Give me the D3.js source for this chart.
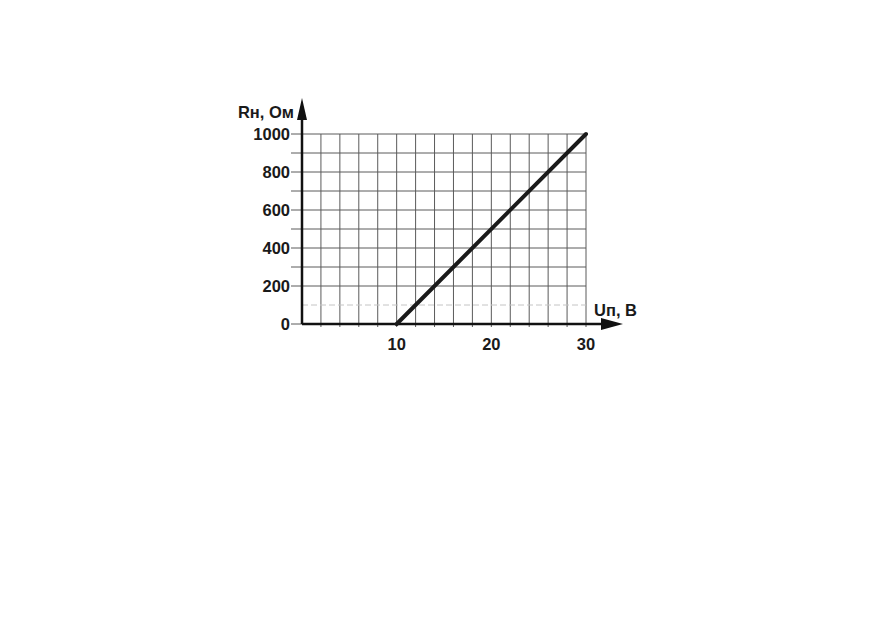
<!DOCTYPE html>
<html><head><meta charset="utf-8">
<script src="https://cdn.jsdelivr.net/npm/d3@7"></script>
<style>body{margin:0;background:#fff}svg{display:block}text{font-family:"Liberation Sans",Arial,sans-serif;font-weight:bold;fill:#1a1a1a}</style>
</head><body><svg id="c" width="872" height="618"></svg>
<script>
const voltage = [10, 30];
const resistance = [0, 1000];
const xTickLabels = [10, 20, 30];
const yTickLabels = [0, 200, 400, 600, 800, 1000];
const xLabel = "Uп, В";
const yLabel = "Rн, Ом";

const svg = d3.select("#c");
const x = d3.scaleLinear().domain([0, 30]).range([302, 586]);
const y = d3.scaleLinear().domain([0, 1000]).range([324, 134]);

svg.append("defs").append("clipPath").attr("id", "clipR")
  .append("rect").attr("x", 0).attr("y", 0).attr("width", 637).attr("height", 618);

const g = svg.append("g");
const xGrid = d3.range(2, 31, 2);
g.selectAll(".vg").data(xGrid).join("line")
  .attr("x1", d => x(d)).attr("x2", d => x(d))
  .attr("y1", y(1000)).attr("y2", y(0) + 3)
  .attr("stroke", "#5a5a5a").attr("stroke-width", 1);
const yGrid = d3.range(100, 1001, 100);
g.selectAll(".hg").data(yGrid).join("line")
  .attr("x1", d => d === 100 ? x(0) : x(0) - 11).attr("x2", x(30))
  .attr("y1", d => y(d)).attr("y2", d => y(d))
  .attr("stroke", d => d === 100 ? "#c4c4c4" : "#5a5a5a")
  .attr("stroke-dasharray", d => d === 100 ? "6,3" : null)
  .attr("stroke-width", 1);
g.append("line").attr("x1", x(0) - 11).attr("x2", x(0)).attr("y1", y(0)).attr("y2", y(0))
  .attr("stroke", "#5a5a5a");

g.append("line").attr("x1", x(0)).attr("x2", 606).attr("y1", y(0)).attr("y2", y(0))
  .attr("stroke", "#111").attr("stroke-width", 2.5);
g.append("line").attr("x1", x(0)).attr("x2", x(0)).attr("y1", y(0)).attr("y2", 116)
  .attr("stroke", "#111").attr("stroke-width", 2.5);
g.append("path").attr("d", `M${x(0)},98 L${x(0)-5},120 L${x(0)+5},120 Z`).attr("fill", "#111");
g.append("path").attr("d", `M623,${y(0)} L601,${y(0)-6} L601,${y(0)+6} Z`).attr("fill", "#111");

g.append("path").datum(voltage.map((v, i) => [v, resistance[i]]))
  .attr("d", d3.line().x(d => x(d[0])).y(d => y(d[1])))
  .attr("stroke", "#1a1a1a").attr("stroke-width", 4).attr("fill", "none").attr("stroke-linecap", "round");

g.selectAll(".yl").data(yTickLabels).join("text")
  .attr("x", 290).attr("y", d => y(d)).attr("dy", "0.36em")
  .attr("text-anchor", "end").attr("font-size", 16.5).text(d => d);
g.selectAll(".xl").data(xTickLabels).join("text")
  .attr("x", d => x(d)).attr("y", 350)
  .attr("text-anchor", "middle").attr("font-size", 16.5).text(d => d);
g.append("text").attr("x", 294).attr("y", 118).attr("text-anchor", "end").attr("font-size", 16.5).text(yLabel);
g.append("text").attr("x", 594).attr("y", 316).attr("font-size", 16.5).attr("clip-path", "url(#clipR)").text(xLabel);
</script></body></html>
